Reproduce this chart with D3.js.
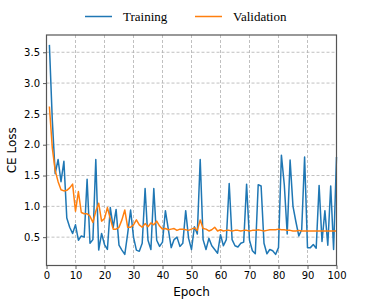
<!DOCTYPE html>
<html>
<head>
<meta charset="utf-8">
<script src="https://cdn.jsdelivr.net/npm/d3@7"></script>
<style>
  body { margin: 0; background: #fff; }
  svg { display: block; }
</style>
</head>
<body>
<svg id="chart" width="374" height="299"></svg>
<script>
// epochs 1..100
const epochs = d3.range(1, 101);

const trainLoss = [
  3.62, 2.40, 1.53, 1.76, 1.40, 1.73, 0.81, 0.66, 0.56, 0.70,
  0.45, 0.52, 0.50, 1.44, 0.40, 0.46, 1.76, 0.29, 0.56, 0.38,
  0.30, 0.98, 0.66, 0.95, 0.37, 0.29, 0.22, 0.56, 0.94, 0.50,
  0.29, 0.27, 0.40, 1.29, 0.45, 0.30, 1.29, 0.45, 0.35, 0.42,
  0.93, 0.63, 0.33, 0.46, 0.50, 0.35, 0.40, 0.93, 0.48, 0.30,
  0.67, 0.55, 1.76, 0.46, 0.30, 0.48, 0.36, 0.30, 0.24, 0.54,
  0.36, 0.46, 1.37, 0.46, 0.36, 0.34, 0.40, 0.42, 1.36, 0.45,
  0.28, 0.23, 1.35, 1.33, 0.40, 0.23, 0.30, 0.28, 0.22, 0.33,
  1.83, 1.35, 0.55, 1.75, 1.00, 0.75, 0.52, 0.62, 1.80, 0.33,
  0.33, 0.38, 0.32, 1.34, 0.43, 0.93, 0.37, 1.33, 0.30, 1.80
];

const valLoss = [
  2.62, 1.95, 1.58, 1.40, 1.27, 1.25, 1.26, 1.30, 1.36, 0.92,
  1.24, 0.90, 0.88, 0.88, 0.84, 0.74, 0.92, 1.05, 0.76, 0.80,
  0.98, 0.80, 0.63, 0.63, 0.66, 0.78, 0.94, 0.66, 0.66, 0.70,
  0.78, 0.70, 0.66, 0.72, 0.67, 0.73, 0.70, 0.76, 0.68, 0.63,
  0.64, 0.62, 0.63, 0.64, 0.61, 0.63, 0.63, 0.62, 0.61, 0.63,
  0.65, 0.61, 0.78, 0.64, 0.63, 0.60, 0.62, 0.66, 0.60, 0.62,
  0.60, 0.61, 0.61, 0.60, 0.61, 0.61, 0.60, 0.61, 0.61, 0.60,
  0.61, 0.61, 0.62, 0.61, 0.60, 0.61, 0.62, 0.62, 0.62, 0.63,
  0.62, 0.62, 0.61, 0.61, 0.60, 0.60, 0.61, 0.60, 0.60, 0.60,
  0.60, 0.60, 0.60, 0.60, 0.60, 0.60, 0.60, 0.60, 0.60, 0.60
];

const xTicks = [0, 10, 20, 30, 40, 50, 60, 70, 80, 90, 100];
const yTicks = [0.5, 1.0, 1.5, 2.0, 2.5, 3.0, 3.5];

const seriesNames = ['Training', 'Validation'];
const seriesColors = ['#1f77b4', '#ff7f0e'];

const margin = { top: 35, right: 37.5, bottom: 33.5, left: 46.5 };
const width = 374 - margin.left - margin.right;
const height = 299 - margin.top - margin.bottom;

const svg = d3.select('#chart');
const g = svg.append('g')
  .attr('transform', `translate(${margin.left},${margin.top})`);

const x = d3.scaleLinear().domain([0, 100]).range([0, width]);
const y = d3.scaleLinear().domain([0.04, 3.78]).range([height, 0]);

// grid
g.append('g')
  .selectAll('line')
  .data(xTicks)
  .enter()
  .append('line')
  .attr('x1', d => x(d)).attr('x2', d => x(d))
  .attr('y1', 0).attr('y2', height)
  .attr('stroke', '#b0b0b0')
  .attr('stroke-width', 0.8)
  .attr('stroke-dasharray', '3,2');

g.append('g')
  .selectAll('line')
  .data(yTicks)
  .enter()
  .append('line')
  .attr('x1', 0).attr('x2', width)
  .attr('y1', d => y(d)).attr('y2', d => y(d))
  .attr('stroke', '#b0b0b0')
  .attr('stroke-width', 0.8)
  .attr('stroke-dasharray', '3,2');

// lines
const line = d3.line()
  .x((d, i) => x(epochs[i]))
  .y(d => y(d));

[trainLoss, valLoss].forEach((vals, k) => {
  g.append('path')
    .datum(vals)
    .attr('fill', 'none')
    .attr('stroke', seriesColors[k])
    .attr('stroke-width', 1.5)
    .attr('stroke-linejoin', 'round')
    .attr('d', line);
});

// axes
const xAxis = g.append('g')
  .attr('transform', `translate(0,${height})`)
  .call(d3.axisBottom(x).tickValues(xTicks).tickSize(3.5).tickPadding(3).tickFormat(d3.format('d')));

const yAxis = g.append('g')
  .call(d3.axisLeft(y).tickValues(yTicks).tickSize(3.5).tickPadding(3).tickFormat(d3.format('.1f')));

[xAxis, yAxis].forEach(a => {
  a.select('.domain').remove();
  a.selectAll('line').attr('stroke', '#333').attr('stroke-width', 0.8);
  a.selectAll('text')
    .attr('fill', '#000')
    .style('font-family', '"DejaVu Sans", sans-serif')
    .style('font-size', '10px');
});

// frame
g.append('rect')
  .attr('x', 0).attr('y', 0)
  .attr('width', width).attr('height', height)
  .attr('fill', 'none')
  .attr('stroke', '#555')
  .attr('stroke-width', 1.2);

// axis labels
svg.append('text')
  .attr('x', margin.left + width / 2)
  .attr('y', 296)
  .attr('text-anchor', 'middle')
  .style('font-family', '"DejaVu Sans", sans-serif')
  .style('font-size', '12px')
  .text('Epoch');

svg.append('text')
  .attr('transform', `translate(16,${margin.top + height / 2}) rotate(-90)`)
  .attr('text-anchor', 'middle')
  .style('font-family', '"DejaVu Sans", sans-serif')
  .style('font-size', '12px')
  .text('CE Loss');

// legend
const legendX = [85, 195];
const legend = svg.append('g');
seriesNames.forEach((name, k) => {
  legend.append('line')
    .attr('x1', legendX[k]).attr('x2', legendX[k] + 27)
    .attr('y1', 16.5).attr('y2', 16.5)
    .attr('stroke', seriesColors[k])
    .attr('stroke-width', 1.5);
  legend.append('text')
    .attr('x', legendX[k] + 38)
    .attr('y', 21)
    .style('font-family', '"Liberation Serif", "Times New Roman", serif')
    .style('font-size', '13px')
    .text(name);
});
</script>
</body>
</html>
